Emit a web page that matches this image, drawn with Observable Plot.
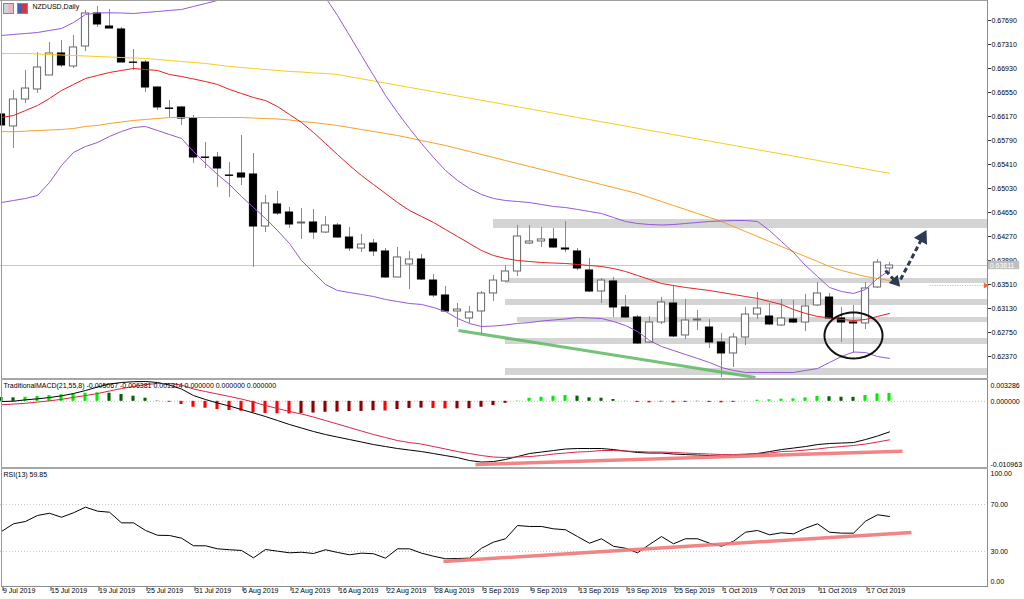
<!DOCTYPE html>
<html><head><meta charset="utf-8">
<script src="https://cdn.jsdelivr.net/npm/d3@7"></script>
<script src="https://cdn.jsdelivr.net/npm/@observablehq/plot@0.6"></script>
<style>
body{margin:0;background:#fff;}
#wrap{position:relative;width:1024px;height:599px;overflow:hidden;background:#fff;font-family:"Liberation Sans",Arial,sans-serif;}
.ln{position:absolute;background:#a0a0a0;}
.ic{position:absolute;width:9px;height:9px;border:1px solid #7a8aa8;}
</style></head><body><div id="wrap"></div>
<script>
// ---------- data ----------
const dates = ["2019-07-09","2019-07-10","2019-07-11","2019-07-12","2019-07-15","2019-07-16","2019-07-17","2019-07-18","2019-07-19","2019-07-22","2019-07-23","2019-07-24","2019-07-25","2019-07-26","2019-07-29","2019-07-30","2019-07-31",
"2019-08-01","2019-08-02","2019-08-05","2019-08-06","2019-08-07","2019-08-08","2019-08-09","2019-08-12","2019-08-13","2019-08-14","2019-08-15","2019-08-16","2019-08-19","2019-08-20","2019-08-21","2019-08-22","2019-08-23","2019-08-26","2019-08-27","2019-08-28","2019-08-29","2019-08-30",
"2019-09-02","2019-09-03","2019-09-04","2019-09-05","2019-09-06","2019-09-09","2019-09-10","2019-09-11","2019-09-12","2019-09-13","2019-09-16","2019-09-17","2019-09-18","2019-09-19","2019-09-20","2019-09-23","2019-09-24","2019-09-25","2019-09-26","2019-09-27","2019-09-30",
"2019-10-01","2019-10-02","2019-10-03","2019-10-04","2019-10-07","2019-10-08","2019-10-09","2019-10-10","2019-10-11","2019-10-14","2019-10-15","2019-10-16","2019-10-17","2019-10-18","2019-10-21"];

const open = [0.66202,0.66012,0.66439,0.66598,0.66819,0.67168,0.66962,0.67278,0.67801,0.67595,
0.67548,0.67025,0.67025,0.66629,0.66297,0.66313,0.66138,0.65521,0.65521,0.65236,
0.65268,0.65252,0.64428,0.64777,0.6465,0.64476,0.64492,0.64333,0.64444,0.64254,
0.6408,0.64159,0.64033,0.63621,0.63827,0.63906,0.63573,0.63336,0.63083,0.62972,
0.63083,0.63368,0.63558,0.63716,0.64159,0.64191,0.64223,0.6408,0.64033,0.63732,
0.63399,0.63558,0.63146,0.62988,0.62592,0.62908,0.63209,0.62703,0.6294,0.62829,
0.62592,0.62418,0.62671,0.63035,0.63003,0.62861,0.62956,0.62908,0.63178,0.63304,
0.62972,0.62908,0.62893,0.63463,0.63763];
const high = [0.66233,0.66582,0.66898,0.67183,0.67342,0.67373,0.67453,0.67848,0.67912,0.67864,
0.67579,0.67231,0.67057,0.6664,0.66423,0.66328,0.66186,0.65758,0.656,0.65442,
0.65869,0.65584,0.64919,0.64983,0.64729,0.64713,0.64698,0.64587,0.64476,0.64413,
0.64302,0.64223,0.6408,0.64096,0.64033,0.63985,0.63668,0.63478,0.63209,0.63162,
0.63399,0.63653,0.63811,0.64444,0.64444,0.64413,0.64397,0.64508,0.6408,0.63922,
0.63605,0.63621,0.63336,0.63019,0.63003,0.63304,0.63494,0.63273,0.63098,0.62956,
0.62734,0.62734,0.63146,0.63383,0.63209,0.63273,0.63257,0.63352,0.63542,0.63368,
0.63146,0.63178,0.63542,0.63906,0.63858];
const low = [0.65996,0.65663,0.66376,0.66534,0.66819,0.66946,0.6693,0.67199,0.67579,0.67563,
0.67025,0.66898,0.6655,0.66265,0.66154,0.66028,0.65426,0.65347,0.65046,0.64888,
0.65078,0.63779,0.64333,0.64603,0.64397,0.64223,0.64223,0.64318,0.64238,0.64033,
0.64017,0.63953,0.63605,0.63615,0.63431,0.63573,0.63304,0.63067,0.62829,0.62893,
0.62703,0.63241,0.63542,0.63637,0.64143,0.64096,0.6408,0.64017,0.63732,0.63383,
0.63209,0.62988,0.62972,0.6256,0.62576,0.62877,0.62671,0.62639,0.62782,0.62497,
0.62038,0.62196,0.62544,0.62956,0.62861,0.62845,0.62893,0.62766,0.63162,0.62965,
0.62592,0.62418,0.62798,0.63447,0.63684];
const close = [0.66028,0.66439,0.66613,0.66946,0.67168,0.66978,0.67263,0.67801,0.67627,0.67563,
0.67025,0.6702,0.66629,0.66313,0.6629,0.66138,0.65521,0.65515,0.65347,0.6523,
0.65204,0.64428,0.64793,0.64634,0.6446,0.64492,0.64333,0.64444,0.64254,0.6408,
0.64143,0.64033,0.63621,0.63938,0.63906,0.63589,0.63336,0.63083,0.63114,0.63067,
0.63368,0.63573,0.63716,0.6427,0.64191,0.64223,0.64096,0.64064,0.63763,0.63399,
0.63573,0.63146,0.62988,0.62576,0.62908,0.63225,0.62687,0.6294,0.62956,0.62592,
0.62418,0.62671,0.63035,0.6313,0.62877,0.62972,0.62908,0.63162,0.63368,0.62972,
0.62908,0.62893,0.63447,0.63858,0.63811];

const bbUpper = [0.67453,0.67469,0.67484,0.675,0.67532,0.67563,0.67658,0.67785,0.67809,0.67812,
0.67809,0.67801,0.67817,0.67833,0.67849,0.67864,0.67912,0.67959,0.68007,0.68054,
0.68102,0.68197,0.68292,0.68355,0.68418,0.6845,0.68323,0.68054,0.67769,0.67453,
0.67136,0.6682,0.66503,0.66233,0.6598,0.65743,0.65521,0.65315,0.65157,0.6503,
0.64935,0.64872,0.6484,0.64824,0.64808,0.64777,0.64745,0.64729,0.64698,0.64666,
0.64634,0.64571,0.64508,0.64476,0.6446,0.64452,0.6446,0.64476,0.64492,0.64508,
0.64516,0.64523,0.64523,0.64508,0.64365,0.6419,0.64017,0.63811,0.63637,0.63463,
0.63399,0.63368,0.63431,0.63605,0.63732];
const bbLower = [0.64808,0.6484,0.64872,0.64919,0.65125,0.65394,0.65601,0.65695,0.65758,0.65854,
0.65933,0.65996,0.66012,0.65948,0.65885,0.65822,0.65616,0.65426,0.65252,0.65093,
0.64903,0.64729,0.64555,0.64365,0.64159,0.6389,0.637,0.6351,0.63415,0.63383,
0.63352,0.6332,0.63273,0.63241,0.63209,0.63194,0.63146,0.63083,0.62972,0.62893,
0.62845,0.62853,0.62869,0.62893,0.62908,0.62932,0.62948,0.62964,0.62988,0.6298,
0.62972,0.62924,0.62861,0.62766,0.62624,0.62528,0.62465,0.62402,0.62339,0.62275,
0.62196,0.62149,0.62117,0.62117,0.62117,0.62117,0.62117,0.62149,0.6218,0.62275,
0.6237,0.62441,0.62433,0.6237,0.62339];
const maRed = [0.66154,0.66186,0.66265,0.66344,0.66455,0.66582,0.66677,0.66772,0.6682,0.66867,
0.66899,0.6693,0.66914,0.66899,0.66835,0.66803,0.66764,0.66724,0.66677,0.66598,
0.66534,0.66471,0.66423,0.66328,0.66202,0.66075,0.65917,0.65743,0.65568,0.65394,
0.65236,0.65093,0.64951,0.64808,0.64682,0.64587,0.64492,0.64381,0.6427,0.64159,
0.64048,0.63969,0.63922,0.6389,0.63874,0.63858,0.6385,0.63843,0.63827,0.63811,
0.63795,0.63763,0.63716,0.63653,0.6359,0.63526,0.63494,0.63463,0.63439,0.63415,
0.63383,0.63352,0.6332,0.63289,0.63241,0.63194,0.63114,0.63051,0.63004,0.6298,
0.62956,0.6294,0.62956,0.63004,0.63051];
const maOrange = [0.6593,0.6593,0.65938,0.65948,0.65956,0.65964,0.6598,0.66012,0.66028,0.66059,
0.66083,0.66107,0.66123,0.66138,0.66154,0.66154,0.66154,0.66154,0.66154,0.66154,
0.66154,0.66146,0.66138,0.6613,0.66115,0.66091,0.66075,0.66051,0.66028,0.65996,
0.65964,0.65933,0.65901,0.65869,0.6583,0.6579,0.6575,0.65711,0.65663,0.65616,
0.65568,0.65521,0.65473,0.65426,0.65378,0.65331,0.65283,0.65236,0.65188,0.65141,
0.65093,0.65046,0.64998,0.64951,0.64888,0.64824,0.64761,0.64698,0.64634,0.64571,
0.64508,0.64428,0.64349,0.6427,0.6419,0.64111,0.64032,0.63953,0.63874,0.63795,
0.63732,0.63684,0.63637,0.63605,0.63573];
const maYellow = [0.67168,0.67168,0.67168,0.6716,0.67152,0.67144,0.67136,0.67128,0.6712,0.67112,
0.67104,0.67097,0.67089,0.67073,0.67057,0.67041,0.67025,0.6701,0.66986,0.66962,
0.66946,0.6693,0.66914,0.66899,0.66883,0.66875,0.66859,0.66851,0.66835,0.66801,
0.66767,0.66733,0.66699,0.66665,0.66631,0.66597,0.66563,0.66529,0.66495,0.66461,
0.66427,0.66393,0.66359,0.66325,0.66291,0.66257,0.66223,0.66189,0.66155,0.66121,
0.66087,0.66053,0.66019,0.65985,0.65951,0.65917,0.65883,0.65849,0.65815,0.65781,
0.65747,0.65713,0.65679,0.65645,0.65611,0.65577,0.65543,0.65509,0.65475,0.65441,
0.65407,0.65373,0.65339,0.65305,0.65271];

const priceTicks = [0.67690,0.67310,0.66930,0.66550,0.66170,0.65790,0.65410,0.65030,0.64650,0.64270,0.63890,0.63510,0.63130,0.62750,0.62370];
const bandStart = [41,42,42,43,42,42];
const bandHigh = [0.64539,0.63605,0.63273,0.62988,0.62655,0.62180];
const bandLow  = [0.64397,0.63526,0.63178,0.62908,0.62560,0.62069];
const bidPrice = 0.63811;
const orangeLevel = 0.63494;
const greenTrend = {x: [38.08, 62.83], y: [0.62782, 0.62038]};
const ellipseCenter = {x: 71.0, y: 0.62703, rx: 2.42, ry: 0.00364};
const arrowShort = {x: [73.67, 74.5], y: [0.63732, 0.63558]};
const arrowLong  = {x: [74.92, 76.75], y: [0.63589, 0.64254]};

const macdMain = [-0.00003,0.00002,0.00025,0.00041,0.00063,0.00091,0.00129,0.00179,0.00237,0.00287,
0.00312,0.00325,0.003286,0.00312,0.0027,0.00204,0.00096,0.0003,-0.00028,-0.00078,
-0.00136,-0.00194,-0.00252,-0.00318,-0.00384,-0.00442,-0.005,-0.0055,-0.00592,-0.00633,
-0.00674,-0.00716,-0.00749,-0.00782,-0.00807,-0.00832,-0.00865,-0.00899,-0.00932,-0.00981,
-0.01006,-0.00998,-0.00964,-0.00915,-0.00865,-0.0084,-0.00815,-0.0079,-0.00782,-0.00782,
-0.00782,-0.00799,-0.00824,-0.00848,-0.00857,-0.00857,-0.00873,-0.00882,-0.0089,-0.00898,
-0.00906,-0.00898,-0.00882,-0.00865,-0.00832,-0.00799,-0.00774,-0.00749,-0.00716,-0.00699,
-0.00691,-0.00683,-0.00633,-0.00575,-0.005067];
const macdSignal = [-0.00058,-0.00045,-0.00033,-0.00012,0.00008,0.00033,0.00066,0.00096,0.00129,0.00171,
0.00212,0.00245,0.00278,0.00295,0.00295,0.0027,0.00204,0.00162,0.00121,0.0008,
0.00038,-0.00012,-0.0007,-0.00119,-0.00169,-0.0021,-0.0026,-0.00318,-0.00376,-0.00434,
-0.00492,-0.0055,-0.006,-0.0065,-0.00683,-0.00708,-0.00749,-0.0079,-0.00832,-0.00865,
-0.00898,-0.00923,-0.00931,-0.00923,-0.00915,-0.00898,-0.00873,-0.00857,-0.0084,-0.00832,
-0.00815,-0.00815,-0.00824,-0.00832,-0.0084,-0.0084,-0.00848,-0.00857,-0.00865,-0.00873,
-0.00882,-0.00882,-0.00873,-0.00865,-0.00857,-0.00832,-0.00824,-0.00807,-0.0079,-0.00766,
-0.00749,-0.00732,-0.00708,-0.00674,-0.006381];
const macdHist = [0.00062,0.00058,0.00068,0.0008,0.00096,0.00108,0.00124,0.00134,0.00141,0.00134,
0.00113,0.00085,0.00051,0.00005,-0.00015,-0.00053,-0.00098,-0.00114,-0.00136,-0.00152,
-0.00164,-0.00191,-0.00202,-0.00205,-0.00209,-0.00204,-0.00194,-0.00181,-0.00178,-0.00169,
-0.00167,-0.00156,-0.00159,-0.00136,-0.00118,-0.00112,-0.00118,-0.00125,-0.00124,-0.00122,
-0.00098,-0.00071,-0.00033,0.00005,0.00051,0.00068,0.00084,0.00096,0.00086,0.00058,
0.00051,0.0003,0.00002,-0.0002,-0.00025,-0.0001,-0.00025,-0.00015,-0.00005,-0.0002,
-0.00025,-0.00015,-0.00002,0.00018,0.00025,0.00035,0.00041,0.00058,0.0008,0.00076,
0.00068,0.00066,0.00096,0.00124,0.001314];
const macdTicks = [0.003286, 0.000000, -0.010963];
const macdTrend = {x: [39.5, 75.08], y: [-0.01047, -0.00827]};

const rsi = [47.0,53.6,55.6,60.7,62.6,59.2,63.0,67.8,64.4,63.5,
54.4,54.4,47.9,43.8,43.6,41.3,34.8,34.8,32.2,31.4,
30.8,24.5,31.6,30.2,28.8,29.3,28.2,31.4,29.1,27.1,
28.5,28.0,24.2,32.2,32.2,28.5,25.9,23.7,23.9,24.2,
32.7,37.9,40.8,52.1,51.3,51.3,49.3,48.5,42.7,37.0,
40.8,34.4,32.7,28.8,35.9,42.7,36.5,40.8,40.8,37.0,
34.4,38.7,46.4,47.9,44.2,45.9,45.0,49.8,53.6,46.4,
45.6,45.6,55.8,61.3,59.85];
const rsiTicks = [100, 70, 30, 0];
const rsiLevels = [70, 30];
const rsiTrend = {x: [36.83, 75.83], y: [21.4, 46.2]};
const dateTicks = [0,4,8,12,16,20,24,28,32,36,40,44,48,52,56,60,64,68,72];

// ---------- helpers ----------
const idx = dates.map((d, i) => i);
const fmtDate = d3.utcFormat("%-d %b %Y");
const xDomain = [-1/12, 82.25 - 1/12];
const baseStyle = {fontFamily: "'Liberation Sans', Arial, sans-serif", fontSize: "7px", background: "transparent", overflow: "hidden", color: "#000"};
const candles = idx.map(i => ({i, o: open[i], h: high[i], l: low[i], c: close[i]}));
const navy = "#2d3b52";
const wrap = document.getElementById("wrap");
function place(svg, top) { svg.style.position = "absolute"; svg.style.left = "0px"; svg.style.top = top + "px"; wrap.appendChild(svg); }
function seg(o) { return [{x1: o.x[0], y1: o.y[0], x2: o.x[1], y2: o.y[1]}]; }
const ellipsePts = d3.range(0, 361, 6).map(a => ({x: ellipseCenter.x + ellipseCenter.rx * Math.cos(a * Math.PI / 180), y: ellipseCenter.y + ellipseCenter.ry * Math.sin(a * Math.PI / 180)}));
const dashed = {stroke: navy, strokeWidth: 3, strokeDasharray: "5,3"};

// ---------- main price panel ----------
const main = Plot.plot({
  width: 1024, height: 380, marginLeft: 0, marginRight: 37, marginTop: 0, marginBottom: 1,
  x: {domain: xDomain, axis: null},
  y: {domain: [0.620059, 0.680067], axis: null},
  color: {type: "identity"},
  style: baseStyle,
  marks: [
    Plot.rect(bandStart, {x1: d => d, x2: xDomain[1], y1: (d, i) => bandLow[i], y2: (d, i) => bandHigh[i], fill: "#d4d4d4"}),
    Plot.ruleY([bidPrice], {stroke: "#c8c8c8", strokeWidth: 1}),
    Plot.ruleX(candles, {x: "i", y1: "l", y2: "h", stroke: "#8a8a8a", strokeWidth: 1}),
    Plot.rect(candles, {x1: d => d.i - 0.3, x2: d => d.i + 0.3, y1: "o", y2: "c",
      fill: d => d.c >= d.o ? "#ffffff" : "#000000", stroke: d => d.c >= d.o ? "#666666" : "#000000", strokeWidth: 1}),
    Plot.line(idx, {x: d => d, y: d => maYellow[d], stroke: "#f2cf1d", strokeWidth: 1, clip: true}),
    Plot.line(idx, {x: d => d, y: d => maOrange[d], stroke: "#f5a02a", strokeWidth: 1, clip: true}),
    Plot.line(idx, {x: d => d, y: d => bbUpper[d], stroke: "#9658d6", strokeWidth: 1, clip: true}),
    Plot.line(idx, {x: d => d, y: d => bbLower[d], stroke: "#9658d6", strokeWidth: 1, clip: true}),
    Plot.line(idx, {x: d => d, y: d => maRed[d], stroke: "#e02424", strokeWidth: 1, clip: true}),
    Plot.link(seg(greenTrend), {x1: "x1", y1: "y1", x2: "x2", y2: "y2", stroke: "#5cb860", strokeWidth: 3, strokeOpacity: 0.85, clip: true}),
    Plot.line(ellipsePts, {x: "x", y: "y", stroke: "#111", strokeWidth: 2, curve: "linear"}),
    Plot.link(seg(arrowShort), {x1: "x1", y1: "y1", x2: "x2", y2: "y2", ...dashed}),
    Plot.dot([{x: arrowShort.x[1], y: arrowShort.y[1]}], {x: "x", y: "y", symbol: "triangle", r: 4.5, fill: navy, rotate: 138}),
    Plot.link(seg(arrowLong), {x1: "x1", y1: "y1", x2: "x2", y2: "y2", ...dashed}),
    Plot.dot([{x: arrowLong.x[1], y: arrowLong.y[1]}], {x: "x", y: "y", symbol: "triangle", r: 5.5, fill: navy, rotate: 28}),
    Plot.ruleY([orangeLevel], {x1: 77.4, x2: 82.0, stroke: "#f0a070", strokeDasharray: "1,1.5"}),
    Plot.dot([orangeLevel], {x: 82.0, y: d => d, symbol: "triangle", r: 2.2, fill: "#f06a30", rotate: 90}),
    Plot.axisY({anchor: "right", ticks: priceTicks, tickFormat: d => d.toFixed(5), tickSize: 3, tickPadding: 1, label: null, stroke: "#333"}),
    Plot.rect([bidPrice], {x1: 82.25, x2: 84.85, y1: d => d - 0.00066, y2: d => d + 0.00066, fill: "#c0c0c0"}),
    Plot.text([bidPrice], {x: 82.35, y: d => d, text: d => d.toFixed(5), fill: "#ffffff", textAnchor: "start"}),
    Plot.text(["NZDUSD,Daily"], {frameAnchor: "top-left", dx: 32, dy: 4, lineAnchor: "top", textAnchor: "start", text: d => d})
  ]
});
place(main, 0);

// ---------- MACD panel ----------
const histColor = (v, i) => {
  const prev = i ? macdHist[i - 1] : (v >= 0 ? Infinity : -Infinity);
  if (v >= 0) return v >= prev ? "#00ee00" : "#006400";
  return v < prev ? "#ff0000" : "#8b0000";
};
const macdPlot = Plot.plot({
  width: 1024, height: 90, marginLeft: 0, marginRight: 37, marginTop: 2, marginBottom: 2,
  x: {domain: xDomain, axis: null},
  y: {domain: [-0.010963, 0.003286], axis: null},
  color: {type: "identity"},
  style: baseStyle,
  marks: [
    Plot.ruleY([0], {stroke: "#bdbdbd", strokeDasharray: "1,2"}),
    Plot.rect(idx, {x1: d => d - 0.13, x2: d => d + 0.13, y1: 0, y2: d => macdHist[d], fill: d => histColor(macdHist[d], d)}),
    Plot.line(idx, {x: d => d, y: d => macdMain[d], stroke: "#000", strokeWidth: 1, clip: true}),
    Plot.line(idx, {x: d => d, y: d => macdSignal[d], stroke: "#d8264a", strokeWidth: 1, clip: true}),
    Plot.link(seg(macdTrend), {x1: "x1", y1: "y1", x2: "x2", y2: "y2", stroke: "#f07878", strokeWidth: 3.5, strokeOpacity: 0.9}),
    Plot.text(["TraditionalMACD(21,55,8) -0.005067 -0.006381 0.001314 0.000000 0.000000 0.000000"], {frameAnchor: "top-left", dx: 3, dy: 2, lineAnchor: "top", textAnchor: "start", text: d => d}),
    Plot.text([macdTicks[0]], {frameAnchor: "right", y: d => d, dx: 3, dy: 4, textAnchor: "start", text: d => d.toFixed(6)}),
    Plot.text([macdTicks[1]], {frameAnchor: "right", y: d => d, dx: 3, textAnchor: "start", text: d => d.toFixed(6)}),
    Plot.text([macdTicks[2]], {frameAnchor: "right", y: d => d, dx: 3, dy: -3, textAnchor: "start", text: d => d.toFixed(6)})
  ]
});
place(macdPlot, 379);

// ---------- RSI panel ----------
const rsiPlot = Plot.plot({
  width: 1024, height: 130, marginLeft: 0, marginRight: 37, marginTop: 0, marginBottom: 13,
  x: {domain: xDomain, axis: null},
  y: {domain: [0, 100], axis: null},
  style: baseStyle,
  marks: [
    Plot.ruleY(rsiLevels, {stroke: "#c4c4c4", strokeDasharray: "1,2"}),
    Plot.line(idx, {x: d => d, y: d => rsi[d], stroke: "#000", strokeWidth: 1}),
    Plot.link(seg(rsiTrend), {x1: "x1", y1: "y1", x2: "x2", y2: "y2", stroke: "#f07878", strokeWidth: 3.5, strokeOpacity: 0.9}),
    Plot.text(["RSI(13) 59.85"], {frameAnchor: "top-left", dx: 3, dy: 3, lineAnchor: "top", textAnchor: "start", text: d => d}),
    Plot.text([rsiTicks[0]], {frameAnchor: "right", y: d => d, dx: 3, dy: 4, textAnchor: "start", text: d => d.toFixed(2)}),
    Plot.text([rsiTicks[1], rsiTicks[2]], {frameAnchor: "right", y: d => d, dx: 3, textAnchor: "start", text: d => d.toFixed(2)}),
    Plot.text([rsiTicks[3]], {frameAnchor: "right", y: d => d, dx: 3, dy: -4.5, textAnchor: "start", text: d => d.toFixed(2)}),
    Plot.axisX({anchor: "bottom", ticks: dateTicks, tickFormat: i => fmtDate(new Date(dates[i])), tickSize: 5, tickPadding: -3, textAnchor: "start", dx: 1.5, label: null, stroke: "#444"})
  ]
});
place(rsiPlot, 469);

// ---------- frame lines ----------
function ln(l, t, w, h, c) { const d = document.createElement("div"); d.className = "ln"; Object.assign(d.style, {left: l + "px", top: t + "px", width: w + "px", height: h + "px", background: c}); wrap.appendChild(d); }
ln(0, 0, 988, 1, "#a0a0a0");
ln(1, 0, 1, 587, "#9a9a9a");
ln(987, 0, 1, 587, "#8c8c8c");
ln(1, 378, 987, 2, "#a6a6a6");
ln(1, 467, 987, 2, "#a6a6a6");
ln(1, 586, 987, 1, "#8c8c8c");
// window icons
const i1 = document.createElement("div"); i1.className = "ic"; Object.assign(i1.style, {left: "3px", top: "3px", background: "linear-gradient(90deg,#c9d3e6 50%,#e9b8b8 50%)"}); wrap.appendChild(i1);
const i2 = document.createElement("div"); i2.className = "ic"; Object.assign(i2.style, {left: "17px", top: "3px", background: "linear-gradient(90deg,#3b63c4 50%,#d23a3a 50%)"}); wrap.appendChild(i2);
</script></body></html>
